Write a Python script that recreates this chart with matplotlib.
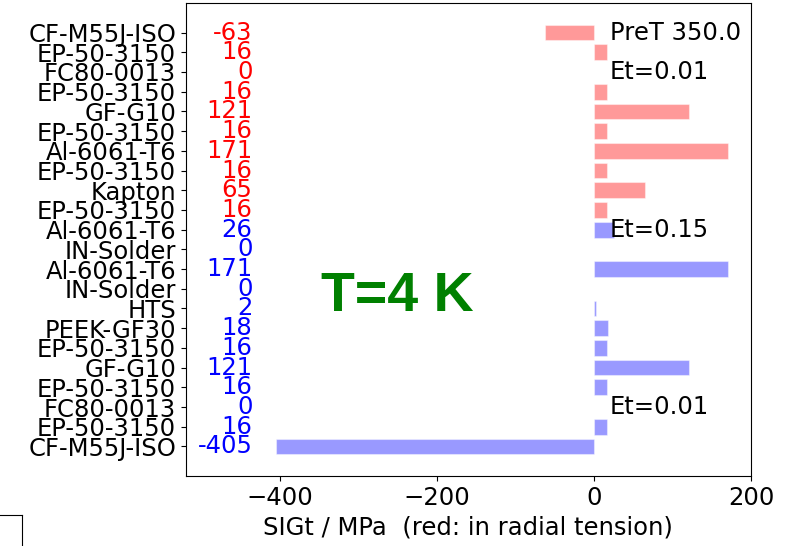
import numpy as np
import matplotlib
matplotlib.use("Agg")
import matplotlib.pyplot as plt

# layers from top (outer) to bottom (inner)
materials = ["CF-M55J-ISO", "EP-50-3150", "FC80-0013", "EP-50-3150", "GF-G10",
             "EP-50-3150", "Al-6061-T6", "EP-50-3150", "Kapton", "EP-50-3150",
             "Al-6061-T6", "IN-Solder", "Al-6061-T6", "IN-Solder", "HTS",
             "PEEK-GF30", "EP-50-3150", "GF-G10", "EP-50-3150", "FC80-0013",
             "EP-50-3150", "CF-M55J-ISO"]
sigt = [-63, 16, 0, 16, 121, 16, 171, 16, 65, 16,
        26, 0, 171, 0, 2, 18, 16, 121, 16, 0, 16, -405]
in_tension = [True] * 10 + [False] * 12

notes = ["PreT 350.0", "Et=0.01", "Et=0.15", "Et=0.01"]
note_rows = [0, 2, 10, 19]

plt.rcParams['font.size'] = 17.5

fig = plt.figure(figsize=(7.85, 5.46), dpi=100)
ax = fig.add_axes([0.2366, 0.1282, 0.7201, 0.8663])

n = len(materials)
ypos = np.arange(n)[::-1]
bar_colors = ['red' if t else 'blue' for t in in_tension]

ax.barh(ypos, sigt, height=0.8, color=bar_colors, alpha=0.4, edgecolor='white', linewidth=0.8)

for y, v, c in zip(ypos, sigt, bar_colors):
    ax.text(-435, y, str(v), color=c, ha='right', va='center')

for txt, r in zip(notes, note_rows):
    ax.text(20, ypos[r], txt, ha='left', va='center')

ax.text(-250, 7.6, "T=4 K", color='green', fontsize=40, fontweight='bold',
        family='Liberation Sans', ha='center', va='center')

ax.set_yticks(ypos)
ax.set_yticklabels(materials)
ax.set_xlim(-520, 200)
ax.set_ylim(-1.5, 22.5)
ax.set_xticks([-400, -200, 0, 200])
ax.set_xlabel("SIGt / MPa  (red: in radial tension)")

# neighbouring panel, mostly off-canvas
ax2 = fig.add_axes([-0.2, -0.2, 0.228, 0.2568])
ax2.set_xticks([])
ax2.set_yticks([])

fig.savefig("out.png", dpi=100)
